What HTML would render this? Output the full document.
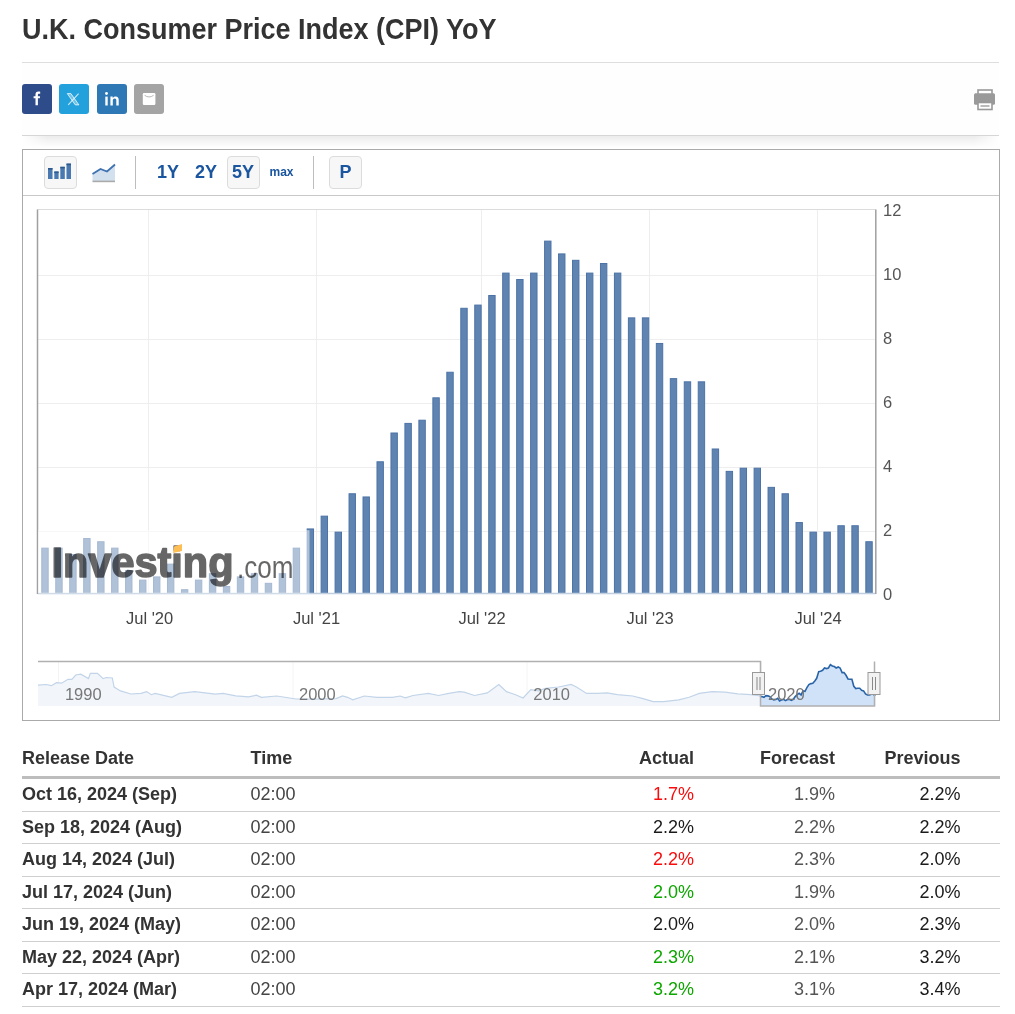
<!DOCTYPE html>
<html><head><meta charset="utf-8"><style>
html,body{margin:0;padding:0;background:#fff;width:1015px;height:1014px;overflow:hidden;position:relative;font-family:"Liberation Sans",sans-serif;}
.abs{position:absolute;}
h1{position:absolute;left:22px;top:12.4px;margin:0;font-size:27px;font-weight:bold;color:#333;line-height:32px;white-space:nowrap;transform:scaleY(1.09);transform-origin:0 0;}
.hr1{position:absolute;left:22px;top:62px;width:977px;height:1px;background:#dedede;}
.sharebg{position:absolute;left:22px;top:63px;width:977px;height:72px;background:#fefefe;}
.hr2{position:absolute;left:22px;top:135px;width:977px;height:1px;background:#d6d6d6;}
.shadow{position:absolute;left:22px;top:136px;width:977px;height:12px;background:linear-gradient(to bottom,rgba(0,0,0,0.075),rgba(0,0,0,0));-webkit-mask-image:linear-gradient(to right,transparent 0,#000 25px,#000 calc(100% - 25px),transparent 100%);}
.sb{position:absolute;top:84px;width:30px;height:30px;border-radius:3px;}
.box{position:absolute;left:22px;top:149px;width:976px;height:570px;border:1px solid #aaaaaa;}
.tbar{position:absolute;left:23px;top:195px;width:976px;height:1px;background:#c8c8c8;}
.btn{position:absolute;top:156px;width:31px;height:31px;border:1px solid #dcdcdc;border-radius:4px;background:#f7f7f7;}
.sep{position:absolute;top:156px;width:1px;height:33px;background:#bdbdbd;}
.rng{position:absolute;top:160px;font-size:18px;font-weight:bold;color:#1a55a0;line-height:24px;}
table{position:absolute;left:22px;top:740px;width:978px;border-collapse:collapse;font-size:18px;}
th{font-weight:bold;color:#333;height:36px;padding:0;border-bottom:3px solid #bdbdbd;vertical-align:middle;text-align:left;}
td{height:31.5px;padding:0;border-bottom:1px solid #cfcfcf;vertical-align:middle;}
td.d{font-weight:bold;color:#333;}
td.t{color:#444;}
td.a,td.f,td.p,th.r{text-align:right;}
td.f{color:#555;}
td.p{color:#1a1a1a;}
</style></head><body>
<div id="wrap" style="position:absolute;left:0;top:0;width:1015px;height:1014px;will-change:transform;">
<h1>U.K. Consumer Price Index (CPI) YoY</h1>
<div class="hr1"></div>
<div class="sharebg"></div>
<div class="sb" style="left:22px;background:#2f4c8a;"><svg width="30" height="30" viewBox="0 0 30 30"><path d="M13.5,21.3 V14.3 H11.6 V12.2 H13.5 V10.6 C13.5,8.6 14.5,7.6 16.4,7.6 C17.1,7.6 17.7,7.7 18.2,7.8 V9.8 H17.1 C16.2,9.8 15.9,10.2 15.9,10.9 V12.2 H18.1 L17.8,14.3 H15.9 V21.3 Z" fill="#fff"/></svg></div>
<div class="sb" style="left:59px;background:#23a1dd;"><svg width="30" height="30" viewBox="0 0 30 30"><path d="M8.3,9.6 H11.9 L19.9,20.9 H16.3 Z" fill="#fff" fill-opacity="0.35" stroke="#fff" stroke-opacity="0.75" stroke-width="1"/><path d="M19.6,9.6 L9.2,20.9" stroke="#fff" stroke-opacity="0.75" stroke-width="1.1"/></svg></div>
<div class="sb" style="left:97px;background:#2e78b5;"><svg width="30" height="30" viewBox="0 0 30 30"><rect x="8.3" y="12.6" width="2.4" height="8.9" fill="#fff"/><circle cx="9.5" cy="9.5" r="1.45" fill="#fff"/><path d="M13.4,12.6 H15.7 V14 C16.3,13 17.3,12.4 18.6,12.4 C20.8,12.4 21.7,13.7 21.7,16 V21.5 H19.3 V16.4 C19.3,15.2 18.9,14.5 17.8,14.5 C16.6,14.5 15.8,15.3 15.8,16.6 V21.5 H13.4 Z" fill="#fff"/></svg></div>
<div class="sb" style="left:134px;background:#a4a4a4;"><svg width="30" height="30" viewBox="0 0 30 30"><rect x="8.8" y="9" width="12.6" height="12" rx="1.2" fill="#fff"/><path d="M10.6,11.3 Q15.1,14.6 19.6,11.3" fill="none" stroke="#b0b0b0" stroke-width="0.9"/></svg></div>
<svg class="abs" style="left:972px;top:87px" width="26" height="26" viewBox="0 0 26 26"><rect x="6" y="3" width="14" height="6" fill="none" stroke="#999" stroke-width="1.6"/><rect x="2" y="6.3" width="21" height="11.5" rx="1.5" fill="#9a9a9a"/><rect x="6" y="15.5" width="14" height="7" fill="#fff" stroke="#999" stroke-width="1.6"/><rect x="8.5" y="18" width="9" height="2" fill="#bbb"/></svg>
<div class="hr2"></div>
<div class="shadow"></div>
<div class="box"></div>
<div class="tbar"></div>
<div class="btn" style="left:44px;"><svg width="31" height="31" viewBox="0 0 31 31" style="position:absolute;left:0;top:-0.7px"><rect x="3" y="12" width="4.5" height="11" fill="#4a78b0"/><rect x="9.3" y="15.5" width="4.3" height="7.5" fill="#4a78b0"/><rect x="15.3" y="10.8" width="4.5" height="12.2" fill="#4a78b0"/><rect x="21.5" y="7.6" width="4.5" height="15.4" fill="#4a78b0"/><rect x="3" y="12" width="4.5" height="1.6" fill="#2d5a8e"/><rect x="9.3" y="15.5" width="4.3" height="1.6" fill="#2d5a8e"/><rect x="15.3" y="10.8" width="4.5" height="1.6" fill="#2d5a8e"/><rect x="21.5" y="7.6" width="4.5" height="1.6" fill="#2d5a8e"/></svg></div>
<svg class="abs" style="left:90px;top:160px" width="28" height="26" viewBox="0 0 28 26"><path d="M2.5,14 L10.5,9 L17,11.5 L25,4.5 V21 H2.5 Z" fill="#d3e0ee"/><path d="M2.5,14 L10.5,9 L17,11.5 L25,4.5" fill="none" stroke="#3f72b0" stroke-width="1.8"/><rect x="2.5" y="20.6" width="22.5" height="1.6" fill="#aaa"/></svg>
<div class="sep" style="left:135px;"></div>
<div class="rng" style="left:157px;">1Y</div>
<div class="rng" style="left:195px;">2Y</div>
<div class="btn" style="left:227px;"></div>
<div class="rng" style="left:232px;">5Y</div>
<div class="rng" style="left:269.5px;top:160px;font-size:12px;">max</div>
<div class="sep" style="left:313px;"></div>
<div class="btn" style="left:329px;"></div>
<div class="rng" style="left:339.5px;">P</div>
<svg class="abs" style="left:0;top:0" width="1015" height="1014" viewBox="0 0 1015 1014">
<line x1="148.5" y1="209.5" x2="148.5" y2="594" stroke="#eeeeee" stroke-width="1"/>
<line x1="316.5" y1="209.5" x2="316.5" y2="594" stroke="#eeeeee" stroke-width="1"/>
<line x1="481.5" y1="209.5" x2="481.5" y2="594" stroke="#eeeeee" stroke-width="1"/>
<line x1="649.5" y1="209.5" x2="649.5" y2="594" stroke="#eeeeee" stroke-width="1"/>
<line x1="817.5" y1="209.5" x2="817.5" y2="594" stroke="#eeeeee" stroke-width="1"/>
<line x1="37.5" y1="531.5" x2="875.5" y2="531.5" stroke="#eeeeee" stroke-width="1"/>
<line x1="37.5" y1="467.5" x2="875.5" y2="467.5" stroke="#eeeeee" stroke-width="1"/>
<line x1="37.5" y1="403.5" x2="875.5" y2="403.5" stroke="#eeeeee" stroke-width="1"/>
<line x1="37.5" y1="339.5" x2="875.5" y2="339.5" stroke="#eeeeee" stroke-width="1"/>
<line x1="37.5" y1="275.5" x2="875.5" y2="275.5" stroke="#eeeeee" stroke-width="1"/>
<line x1="37.5" y1="209.5" x2="875.5" y2="209.5" stroke="#dcdcdc" stroke-width="1"/>
<rect x="41.78" y="548.13" width="6.4" height="45.37" fill="#6084b1" stroke="#4c73a6" stroke-width="1"/>
<rect x="55.75" y="548.13" width="6.4" height="45.37" fill="#6084b1" stroke="#4c73a6" stroke-width="1"/>
<rect x="69.71" y="554.53" width="6.4" height="38.97" fill="#6084b1" stroke="#4c73a6" stroke-width="1"/>
<rect x="83.68" y="538.54" width="6.4" height="54.96" fill="#6084b1" stroke="#4c73a6" stroke-width="1"/>
<rect x="97.65" y="541.73" width="6.4" height="51.77" fill="#6084b1" stroke="#4c73a6" stroke-width="1"/>
<rect x="111.61" y="548.13" width="6.4" height="45.37" fill="#6084b1" stroke="#4c73a6" stroke-width="1"/>
<rect x="125.58" y="570.52" width="6.4" height="22.98" fill="#6084b1" stroke="#4c73a6" stroke-width="1"/>
<rect x="139.55" y="580.11" width="6.4" height="13.39" fill="#6084b1" stroke="#4c73a6" stroke-width="1"/>
<rect x="153.52" y="576.91" width="6.4" height="16.59" fill="#6084b1" stroke="#4c73a6" stroke-width="1"/>
<rect x="167.48" y="564.12" width="6.4" height="29.38" fill="#6084b1" stroke="#4c73a6" stroke-width="1"/>
<rect x="181.45" y="589.70" width="6.4" height="3.80" fill="#6084b1" stroke="#4c73a6" stroke-width="1"/>
<rect x="195.42" y="580.11" width="6.4" height="13.39" fill="#6084b1" stroke="#4c73a6" stroke-width="1"/>
<rect x="209.38" y="573.71" width="6.4" height="19.79" fill="#6084b1" stroke="#4c73a6" stroke-width="1"/>
<rect x="223.35" y="586.51" width="6.4" height="6.99" fill="#6084b1" stroke="#4c73a6" stroke-width="1"/>
<rect x="237.32" y="576.91" width="6.4" height="16.59" fill="#6084b1" stroke="#4c73a6" stroke-width="1"/>
<rect x="251.28" y="573.71" width="6.4" height="19.79" fill="#6084b1" stroke="#4c73a6" stroke-width="1"/>
<rect x="265.25" y="583.31" width="6.4" height="10.19" fill="#6084b1" stroke="#4c73a6" stroke-width="1"/>
<rect x="279.22" y="573.71" width="6.4" height="19.79" fill="#6084b1" stroke="#4c73a6" stroke-width="1"/>
<rect x="293.19" y="548.13" width="6.4" height="45.37" fill="#6084b1" stroke="#4c73a6" stroke-width="1"/>
<rect x="307.15" y="528.94" width="6.4" height="64.56" fill="#6084b1" stroke="#4c73a6" stroke-width="1"/>
<rect x="321.12" y="516.15" width="6.4" height="77.35" fill="#6084b1" stroke="#4c73a6" stroke-width="1"/>
<rect x="335.09" y="532.14" width="6.4" height="61.36" fill="#6084b1" stroke="#4c73a6" stroke-width="1"/>
<rect x="349.05" y="493.76" width="6.4" height="99.74" fill="#6084b1" stroke="#4c73a6" stroke-width="1"/>
<rect x="363.02" y="496.96" width="6.4" height="96.54" fill="#6084b1" stroke="#4c73a6" stroke-width="1"/>
<rect x="376.99" y="461.78" width="6.4" height="131.72" fill="#6084b1" stroke="#4c73a6" stroke-width="1"/>
<rect x="390.96" y="433.00" width="6.4" height="160.50" fill="#6084b1" stroke="#4c73a6" stroke-width="1"/>
<rect x="404.92" y="423.41" width="6.4" height="170.09" fill="#6084b1" stroke="#4c73a6" stroke-width="1"/>
<rect x="418.89" y="420.21" width="6.4" height="173.29" fill="#6084b1" stroke="#4c73a6" stroke-width="1"/>
<rect x="432.86" y="397.82" width="6.4" height="195.68" fill="#6084b1" stroke="#4c73a6" stroke-width="1"/>
<rect x="446.82" y="372.24" width="6.4" height="221.26" fill="#6084b1" stroke="#4c73a6" stroke-width="1"/>
<rect x="460.79" y="308.28" width="6.4" height="285.22" fill="#6084b1" stroke="#4c73a6" stroke-width="1"/>
<rect x="474.76" y="305.08" width="6.4" height="288.42" fill="#6084b1" stroke="#4c73a6" stroke-width="1"/>
<rect x="488.72" y="295.49" width="6.4" height="298.01" fill="#6084b1" stroke="#4c73a6" stroke-width="1"/>
<rect x="502.69" y="273.10" width="6.4" height="320.40" fill="#6084b1" stroke="#4c73a6" stroke-width="1"/>
<rect x="516.66" y="279.50" width="6.4" height="314.00" fill="#6084b1" stroke="#4c73a6" stroke-width="1"/>
<rect x="530.62" y="273.10" width="6.4" height="320.40" fill="#6084b1" stroke="#4c73a6" stroke-width="1"/>
<rect x="544.59" y="241.12" width="6.4" height="352.38" fill="#6084b1" stroke="#4c73a6" stroke-width="1"/>
<rect x="558.56" y="253.91" width="6.4" height="339.59" fill="#6084b1" stroke="#4c73a6" stroke-width="1"/>
<rect x="572.53" y="260.31" width="6.4" height="333.19" fill="#6084b1" stroke="#4c73a6" stroke-width="1"/>
<rect x="586.49" y="273.10" width="6.4" height="320.40" fill="#6084b1" stroke="#4c73a6" stroke-width="1"/>
<rect x="600.46" y="263.51" width="6.4" height="329.99" fill="#6084b1" stroke="#4c73a6" stroke-width="1"/>
<rect x="614.43" y="273.10" width="6.4" height="320.40" fill="#6084b1" stroke="#4c73a6" stroke-width="1"/>
<rect x="628.39" y="317.87" width="6.4" height="275.63" fill="#6084b1" stroke="#4c73a6" stroke-width="1"/>
<rect x="642.36" y="317.87" width="6.4" height="275.63" fill="#6084b1" stroke="#4c73a6" stroke-width="1"/>
<rect x="656.33" y="343.46" width="6.4" height="250.04" fill="#6084b1" stroke="#4c73a6" stroke-width="1"/>
<rect x="670.29" y="378.64" width="6.4" height="214.86" fill="#6084b1" stroke="#4c73a6" stroke-width="1"/>
<rect x="684.26" y="381.83" width="6.4" height="211.67" fill="#6084b1" stroke="#4c73a6" stroke-width="1"/>
<rect x="698.23" y="381.83" width="6.4" height="211.67" fill="#6084b1" stroke="#4c73a6" stroke-width="1"/>
<rect x="712.20" y="448.99" width="6.4" height="144.51" fill="#6084b1" stroke="#4c73a6" stroke-width="1"/>
<rect x="726.16" y="471.38" width="6.4" height="122.12" fill="#6084b1" stroke="#4c73a6" stroke-width="1"/>
<rect x="740.13" y="468.18" width="6.4" height="125.32" fill="#6084b1" stroke="#4c73a6" stroke-width="1"/>
<rect x="754.10" y="468.18" width="6.4" height="125.32" fill="#6084b1" stroke="#4c73a6" stroke-width="1"/>
<rect x="768.06" y="487.37" width="6.4" height="106.13" fill="#6084b1" stroke="#4c73a6" stroke-width="1"/>
<rect x="782.03" y="493.76" width="6.4" height="99.74" fill="#6084b1" stroke="#4c73a6" stroke-width="1"/>
<rect x="796.00" y="522.55" width="6.4" height="70.95" fill="#6084b1" stroke="#4c73a6" stroke-width="1"/>
<rect x="809.97" y="532.14" width="6.4" height="61.36" fill="#6084b1" stroke="#4c73a6" stroke-width="1"/>
<rect x="823.93" y="532.14" width="6.4" height="61.36" fill="#6084b1" stroke="#4c73a6" stroke-width="1"/>
<rect x="837.90" y="525.74" width="6.4" height="67.76" fill="#6084b1" stroke="#4c73a6" stroke-width="1"/>
<rect x="851.87" y="525.74" width="6.4" height="67.76" fill="#6084b1" stroke="#4c73a6" stroke-width="1"/>
<rect x="865.83" y="541.73" width="6.4" height="51.77" fill="#6084b1" stroke="#4c73a6" stroke-width="1"/>
<line x1="37.5" y1="593.5" x2="875.5" y2="593.5" stroke="#c0cfe0" stroke-width="1.5"/>
<line x1="37.5" y1="209.5" x2="37.5" y2="594" stroke="#a0a0a0" stroke-width="1.5"/>
<line x1="875.8" y1="209.5" x2="875.8" y2="594" stroke="#a0a0a0" stroke-width="1.5"/>
<rect x="38" y="530.2" width="271.5" height="63.3" fill="#ffffff" fill-opacity="0.5"/>
<g opacity="0.6"><text x="51.5" y="576.8" font-family="Liberation Sans" font-weight="bold" font-size="42.5" fill="#000" stroke="#000" stroke-width="1.6" stroke-linejoin="round" textLength="182" lengthAdjust="spacingAndGlyphs">Investing</text>
<text x="237" y="578.4" font-family="Liberation Sans" font-size="32" fill="#000" textLength="56.5" lengthAdjust="spacingAndGlyphs">.com</text></g>
<rect x="172" y="540" width="12" height="13" fill="#fff" fill-opacity="0.0"/>
<path d="M174,546.5 L182,544 L182,551 L173,553 Z" fill="#fdbf55"/>
<text x="883" y="600.2" font-family="Liberation Sans" font-size="16.5" fill="#555">0</text>
<text x="883" y="536.2" font-family="Liberation Sans" font-size="16.5" fill="#555">2</text>
<text x="883" y="472.3" font-family="Liberation Sans" font-size="16.5" fill="#555">4</text>
<text x="883" y="408.3" font-family="Liberation Sans" font-size="16.5" fill="#555">6</text>
<text x="883" y="344.4" font-family="Liberation Sans" font-size="16.5" fill="#555">8</text>
<text x="883" y="280.4" font-family="Liberation Sans" font-size="16.5" fill="#555">10</text>
<text x="883" y="216.4" font-family="Liberation Sans" font-size="16.5" fill="#555">12</text>
<text x="149.6" y="623.8" text-anchor="middle" font-family="Liberation Sans" font-size="16.5" fill="#444">Jul '20</text>
<text x="316.5" y="623.8" text-anchor="middle" font-family="Liberation Sans" font-size="16.5" fill="#444">Jul '21</text>
<text x="482" y="623.8" text-anchor="middle" font-family="Liberation Sans" font-size="16.5" fill="#444">Jul '22</text>
<text x="650" y="623.8" text-anchor="middle" font-family="Liberation Sans" font-size="16.5" fill="#444">Jul '23</text>
<text x="818" y="623.8" text-anchor="middle" font-family="Liberation Sans" font-size="16.5" fill="#444">Jul '24</text>
<line x1="58.5" y1="661.5" x2="58.5" y2="706" stroke="#f4f4f4" stroke-width="1"/>
<line x1="293" y1="661.5" x2="293" y2="706" stroke="#f4f4f4" stroke-width="1"/>
<line x1="527" y1="661.5" x2="527" y2="706" stroke="#f4f4f4" stroke-width="1"/>
<line x1="761.5" y1="661.5" x2="761.5" y2="706" stroke="#f4f4f4" stroke-width="1"/>
<polygon points="38,706 38.0,685.2 46.2,684.5 51.4,685.7 56.5,682.7 61.6,683.2 68.0,679.3 71.9,679.3 75.7,675.0 80.8,674.2 88.5,678.6 90.3,673.4 97.5,673.4 103.1,678.6 106.5,677.5 112.3,678.0 114.1,687.0 120.5,690.9 130.8,694.0 141.0,693.4 146.7,691.6 151.3,694.7 155.1,693.4 171.8,697.3 179.5,693.4 194.8,691.6 215.3,694.2 223.0,693.4 235.8,695.9 248.6,696.8 256.3,695.2 261.4,697.3 276.8,696.0 296.0,699.0 315.6,699.1 336.1,698.6 342.5,696.0 347.6,697.3 352.8,699.8 364.3,696.0 377.1,697.3 392.5,697.3 400.2,696.0 405.3,697.8 413.0,695.5 428.3,693.4 438.6,695.5 448.8,693.4 459.1,691.6 464.2,692.1 474.5,695.5 487.3,692.9 498.8,684.5 506.5,691.6 515.5,694.7 523.1,698.0 530.8,689.6 538.5,690.9 545.6,688.3 558.4,687.0 571.2,684.5 576.4,687.0 586.6,693.4 596.9,693.4 607.1,692.9 617.4,694.7 632.7,696.0 643.0,698.6 653.2,701.6 663.5,701.6 678.8,699.8 689.1,697.3 699.3,693.4 712.2,691.6 725.0,692.1 737.8,693.9 750.6,694.7 760.8,696.0 760.8,706" fill="#f2f6fb"/>
<polyline points="38.0,685.2 46.2,684.5 51.4,685.7 56.5,682.7 61.6,683.2 68.0,679.3 71.9,679.3 75.7,675.0 80.8,674.2 88.5,678.6 90.3,673.4 97.5,673.4 103.1,678.6 106.5,677.5 112.3,678.0 114.1,687.0 120.5,690.9 130.8,694.0 141.0,693.4 146.7,691.6 151.3,694.7 155.1,693.4 171.8,697.3 179.5,693.4 194.8,691.6 215.3,694.2 223.0,693.4 235.8,695.9 248.6,696.8 256.3,695.2 261.4,697.3 276.8,696.0 296.0,699.0 315.6,699.1 336.1,698.6 342.5,696.0 347.6,697.3 352.8,699.8 364.3,696.0 377.1,697.3 392.5,697.3 400.2,696.0 405.3,697.8 413.0,695.5 428.3,693.4 438.6,695.5 448.8,693.4 459.1,691.6 464.2,692.1 474.5,695.5 487.3,692.9 498.8,684.5 506.5,691.6 515.5,694.7 523.1,698.0 530.8,689.6 538.5,690.9 545.6,688.3 558.4,687.0 571.2,684.5 576.4,687.0 586.6,693.4 596.9,693.4 607.1,692.9 617.4,694.7 632.7,696.0 643.0,698.6 653.2,701.6 663.5,701.6 678.8,699.8 689.1,697.3 699.3,693.4 712.2,691.6 725.0,692.1 737.8,693.9 750.6,694.7 760.8,696.0" fill="none" stroke="#c2d4e8" stroke-width="1.2"/>
<polygon points="760.8,706 760.8,696.3 760.1,696.6 762.0,696.6 764.0,697.3 765.9,695.6 767.9,695.9 769.9,696.6 771.8,698.9 773.8,699.9 775.7,699.6 777.7,698.3 779.6,700.9 781.6,699.9 783.5,699.3 785.5,700.6 787.4,699.6 789.4,699.3 791.3,700.3 793.3,699.3 795.2,696.6 797.2,694.6 799.1,693.3 801.1,694.9 803.0,690.9 805.0,691.3 806.9,687.6 808.9,684.6 810.9,683.6 812.8,683.3 814.8,681.0 816.7,678.3 818.7,671.6 820.6,671.3 822.6,670.3 824.5,668.0 826.5,668.6 828.4,668.0 830.4,664.6 832.3,666.0 834.3,666.6 836.2,668.0 838.2,667.0 840.1,668.0 842.1,672.6 844.0,672.6 846.0,675.3 848.0,679.0 849.9,679.3 851.9,679.3 853.8,686.3 855.8,688.6 857.7,688.3 859.7,688.3 861.6,690.3 863.6,690.9 865.5,693.9 867.5,694.9 869.4,694.9 871.4,694.3 873.3,694.3 875.3,695.9 875.3,706" fill="#d0e2f7"/>
<polyline points="760.8,696.3 760.1,696.6 762.0,696.6 764.0,697.3 765.9,695.6 767.9,695.9 769.9,696.6 771.8,698.9 773.8,699.9 775.7,699.6 777.7,698.3 779.6,700.9 781.6,699.9 783.5,699.3 785.5,700.6 787.4,699.6 789.4,699.3 791.3,700.3 793.3,699.3 795.2,696.6 797.2,694.6 799.1,693.3 801.1,694.9 803.0,690.9 805.0,691.3 806.9,687.6 808.9,684.6 810.9,683.6 812.8,683.3 814.8,681.0 816.7,678.3 818.7,671.6 820.6,671.3 822.6,670.3 824.5,668.0 826.5,668.6 828.4,668.0 830.4,664.6 832.3,666.0 834.3,666.6 836.2,668.0 838.2,667.0 840.1,668.0 842.1,672.6 844.0,672.6 846.0,675.3 848.0,679.0 849.9,679.3 851.9,679.3 853.8,686.3 855.8,688.6 857.7,688.3 859.7,688.3 861.6,690.3 863.6,690.9 865.5,693.9 867.5,694.9 869.4,694.9 871.4,694.3 873.3,694.3 875.3,695.9" fill="none" stroke="#2a64a8" stroke-width="1.6"/>
<text x="64.9" y="700.2" font-family="Liberation Sans" font-size="16.5" fill="#777">1990</text>
<text x="299" y="700.2" font-family="Liberation Sans" font-size="16.5" fill="#777">2000</text>
<text x="533.3" y="700.2" font-family="Liberation Sans" font-size="16.5" fill="#777">2010</text>
<text x="768" y="700.2" font-family="Liberation Sans" font-size="16.5" fill="#777">2020</text>
<path d="M38,661.5 H760.5 V706 H874.5 V661.5" fill="none" stroke="#b0b0b0" stroke-width="1.5"/>
<rect x="752.5" y="672.5" width="12" height="22" fill="#f2f2f2" stroke="#999" stroke-width="1"/>
<line x1="757.0" y1="677" x2="757.0" y2="690" stroke="#888" stroke-width="1"/>
<line x1="760.0" y1="677" x2="760.0" y2="690" stroke="#888" stroke-width="1"/>
<rect x="868" y="672.5" width="12" height="22" fill="#f2f2f2" stroke="#999" stroke-width="1"/>
<line x1="872.5" y1="677" x2="872.5" y2="690" stroke="#888" stroke-width="1"/>
<line x1="875.5" y1="677" x2="875.5" y2="690" stroke="#888" stroke-width="1"/>
</svg>
<table>
<tr><th style="width:228.5px">Release Date</th><th style="width:200.5px">Time</th><th class="r" style="width:243px">Actual</th><th class="r" style="width:141px">Forecast</th><th class="r" style="width:125.5px">Previous</th><th></th></tr>
<tr><td class="d">Oct 16, 2024 (Sep)</td><td class="t">02:00</td><td class="a" style="color:#fa0c0c">1.7%</td><td class="f">1.9%</td><td class="p">2.2%</td><td></td></tr>
<tr><td class="d">Sep 18, 2024 (Aug)</td><td class="t">02:00</td><td class="a" style="color:#1a1a1a">2.2%</td><td class="f">2.2%</td><td class="p">2.2%</td><td></td></tr>
<tr><td class="d">Aug 14, 2024 (Jul)</td><td class="t">02:00</td><td class="a" style="color:#fa0c0c">2.2%</td><td class="f">2.3%</td><td class="p">2.0%</td><td></td></tr>
<tr><td class="d">Jul 17, 2024 (Jun)</td><td class="t">02:00</td><td class="a" style="color:#0ea600">2.0%</td><td class="f">1.9%</td><td class="p">2.0%</td><td></td></tr>
<tr><td class="d">Jun 19, 2024 (May)</td><td class="t">02:00</td><td class="a" style="color:#1a1a1a">2.0%</td><td class="f">2.0%</td><td class="p">2.3%</td><td></td></tr>
<tr><td class="d">May 22, 2024 (Apr)</td><td class="t">02:00</td><td class="a" style="color:#0ea600">2.3%</td><td class="f">2.1%</td><td class="p">3.2%</td><td></td></tr>
<tr><td class="d">Apr 17, 2024 (Mar)</td><td class="t">02:00</td><td class="a" style="color:#0ea600">3.2%</td><td class="f">3.1%</td><td class="p">3.4%</td><td></td></tr>

</table>
</div>
</body></html>
